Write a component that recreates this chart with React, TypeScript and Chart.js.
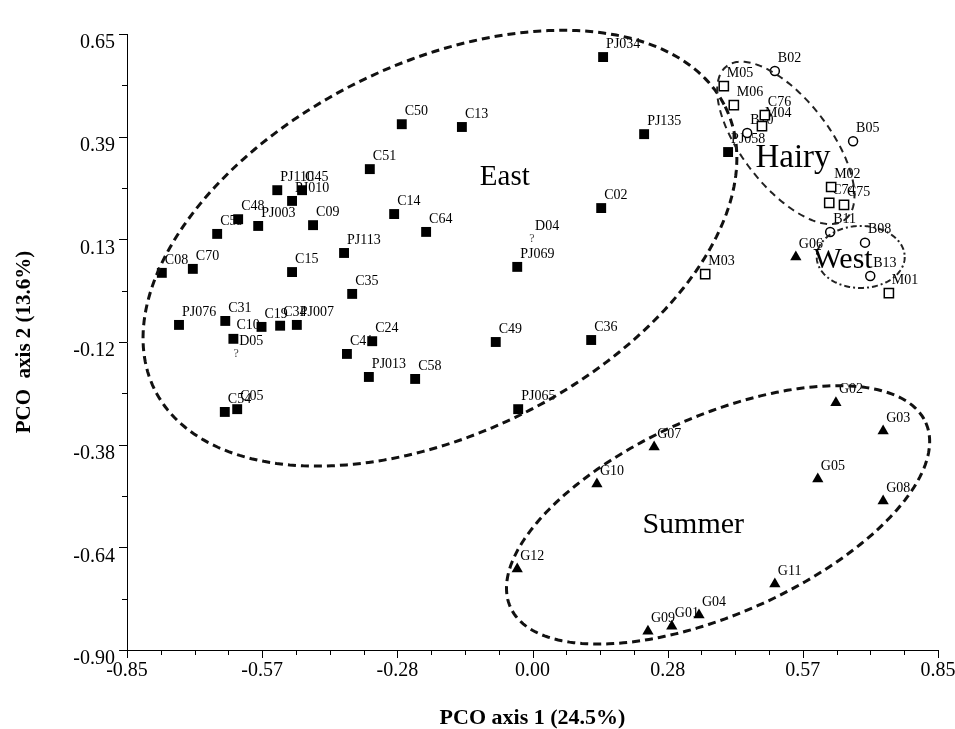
import React, { useEffect, useRef } from "react";
import { Chart, registerables } from "chart.js";
Chart.register(...registerables);

// ---------- DATA ----------
const eastNames = ["PJ034","PJ135","C02","PJ069","C36","C49","PJ065","C13","C50","C51","C14","C64","PJ113","C35","C24","C41","PJ013","C58","C09","PJ003","C48","C59","PJ110","PJ010","C45","C15","C70","C08","PJ076","C31","C10","C19","C34","PJ007","C54","C05","PJ058"];
const eastX = [0.148,0.234,0.144,-0.032,0.123,-0.077,-0.030,-0.148,-0.274,-0.341,-0.290,-0.223,-0.395,-0.378,-0.336,-0.389,-0.343,-0.246,-0.460,-0.575,-0.617,-0.661,-0.535,-0.504,-0.483,-0.504,-0.712,-0.777,-0.741,-0.644,-0.627,-0.568,-0.529,-0.494,-0.645,-0.619,0.410];
const eastY = [0.592,0.398,0.212,0.064,-0.120,-0.125,-0.294,0.416,0.423,0.310,0.197,0.152,0.099,-0.004,-0.123,-0.155,-0.213,-0.218,0.169,0.167,0.184,0.147,0.257,0.230,0.257,0.051,0.059,0.049,-0.082,-0.072,-0.117,-0.087,-0.084,-0.082,-0.301,-0.294,0.353];

const openSqNames = ["M05","M06","C76","M04","M02","C74","C75","M01","M03"];
const openSqX = [0.401,0.422,0.487,0.481,0.626,0.622,0.653,0.747,0.362];
const openSqY = [0.519,0.471,0.446,0.418,0.265,0.225,0.220,-0.002,0.046];

const circleNames = ["B02","B10","B05","B11","B08","B13"];
const circleX = [0.508,0.450,0.672,0.624,0.697,0.708];
const circleY = [0.557,0.401,0.380,0.152,0.125,0.041];

const triNames = ["G06","G02","G03","G07","G10","G05","G08","G12","G11","G04","G01","G09"];
const triX = [0.552,0.636,0.735,0.255,0.135,0.598,0.735,-0.032,0.508,0.349,0.292,0.242];
const triY = [0.089,-0.278,-0.349,-0.389,-0.482,-0.470,-0.525,-0.696,-0.734,-0.812,-0.840,-0.853];

const unknownNames = ["D04","D05"];
const unknownX = [-0.001,-0.621];
const unknownY = [0.134,-0.155];

const xTickValues = [-0.85,-0.5667,-0.2833,0,0.2833,0.5667,0.85];
const xTickLabels = ["-0.85","-0.57","-0.28","0.00","0.28","0.57","0.85"];
const yTickValues = [0.65,0.3917,0.1333,-0.125,-0.3833,-0.6417,-0.90];
const yTickLabels = ["0.65","0.39","0.13","-0.12","-0.38","-0.64","-0.90"];

// group ellipses (data units): centre, first and second semi-axis vectors
const ellipseCX = [-0.194,0.531,0.688,0.389];
const ellipseCY = [0.111,0.376,0.089,-0.560];
const ellipseAX = [0.598,0.124,0.0922,0.4355];
const ellipseAY = [0.356,-0.193,0,0.2318];
const ellipseBX = [0.1725,0.073,0,0.084];
const ellipseBY = [-0.417,0.067,-0.078,-0.228];

const regionNames = ["East","Hairy","West","Summer"];
const regionX = [-0.058,0.546,0.651,0.337];
const regionY = [0.288,0.338,0.082,-0.586];

// ---------- STYLES ----------
const SERIF = '"Liberation Serif", "Times New Roman", serif';
const ellipseStyles = [
  { width: 3, dash: [8, 5], color: "#111" },
  { width: 2, dash: [7, 5], color: "#222" },
  { width: 2, dash: [6, 3, 2, 3], color: "#222" },
  { width: 3, dash: [8, 5], color: "#111" },
];
const regionFont = [29, 33, 30, 30];

const toPts = (xs: number[], ys: number[]) => xs.map((x, i) => ({ x, y: ys[i] }));

const overlay = {
  id: "overlay",
  beforeDatasetsDraw(chart: any) {
    const ctx = chart.ctx;
    ctx.save();
    ctx.font = `14px ${SERIF}`;
    ctx.fillStyle = "#000";
    ctx.textAlign = "left";
    ctx.textBaseline = "middle";
    chart.data.datasets.forEach((ds: any, di: number) => {
      const meta = chart.getDatasetMeta(di);
      (ds.names || []).forEach((n: string, i: number) => {
        const el = meta.data[i];
        ctx.fillText(n, el.x + 3, el.y - 13);
      });
      if (ds.unknown) {
        ctx.save();
        ctx.font = `12px ${SERIF}`;
        ctx.fillStyle = "#444";
        ctx.textAlign = "center";
        meta.data.forEach((el: any) => ctx.fillText("?", el.x, el.y));
        ctx.restore();
      }
    });
    ctx.restore();
  },
  afterDatasetsDraw(chart: any) {
    const ctx = chart.ctx;
    const xs = chart.scales.x, ys = chart.scales.y;
    ctx.save();
    // ellipses
    for (let e = 0; e < ellipseCX.length; e++) {
      const st = ellipseStyles[e];
      ctx.beginPath();
      const N = 240;
      for (let k = 0; k <= N; k++) {
        const t = (k / N) * Math.PI * 2;
        const dx = ellipseCX[e] + ellipseAX[e] * Math.cos(t) + ellipseBX[e] * Math.sin(t);
        const dy = ellipseCY[e] + ellipseAY[e] * Math.cos(t) + ellipseBY[e] * Math.sin(t);
        const px = xs.getPixelForValue(dx), py = ys.getPixelForValue(dy);
        if (k === 0) ctx.moveTo(px, py); else ctx.lineTo(px, py);
      }
      ctx.setLineDash(st.dash);
      ctx.lineWidth = st.width;
      ctx.strokeStyle = st.color;
      ctx.stroke();
    }
    ctx.setLineDash([]);
    // region names
    ctx.fillStyle = "#000";
    ctx.textAlign = "center";
    ctx.textBaseline = "middle";
    regionNames.forEach((n, i) => {
      ctx.font = `${regionFont[i]}px ${SERIF}`;
      ctx.fillText(n, xs.getPixelForValue(regionX[i]), ys.getPixelForValue(regionY[i]));
    });
    // axis tick marks (major + minor)
    const area = chart.chartArea;
    ctx.strokeStyle = "#000";
    ctx.lineWidth = 1;
    ctx.beginPath();
    for (let i = 0; i < xTickValues.length; i++) {
      const p = Math.round(xs.getPixelForValue(xTickValues[i])) + 0.5;
      ctx.moveTo(p, area.bottom); ctx.lineTo(p, area.bottom + 8);
      if (i < xTickValues.length - 1) {
        for (let j = 1; j < 4; j++) {
          const v = xTickValues[i] + ((xTickValues[i + 1] - xTickValues[i]) * j) / 4;
          const q = Math.round(xs.getPixelForValue(v)) + 0.5;
          ctx.moveTo(q, area.bottom); ctx.lineTo(q, area.bottom + 5);
        }
      }
    }
    for (let i = 0; i < yTickValues.length; i++) {
      const p = Math.round(ys.getPixelForValue(yTickValues[i])) + 0.5;
      ctx.moveTo(area.left, p); ctx.lineTo(area.left - 8, p);
      if (i < yTickValues.length - 1) {
        const v = (yTickValues[i] + yTickValues[i + 1]) / 2;
        const q = Math.round(ys.getPixelForValue(v)) + 0.5;
        ctx.moveTo(area.left, q); ctx.lineTo(area.left - 5, q);
      }
    }
    ctx.stroke();
    ctx.restore();
  },
};

export default function App() {
  const ref = useRef<HTMLCanvasElement>(null);
  useEffect(() => {
    if (!ref.current) return;
    Chart.defaults.font.family = SERIF;
    const chart = new Chart(ref.current, {
      type: "scatter",
      data: {
        datasets: [
          { label: "East", data: toPts(eastX, eastY), names: eastNames, pointStyle: "rect", pointRadius: 7, backgroundColor: "#000", borderColor: "#000", borderWidth: 0 } as any,
          { label: "Open squares", data: toPts(openSqX, openSqY), names: openSqNames, pointStyle: "rect", pointRadius: 6.5, backgroundColor: "#fff", borderColor: "#000", borderWidth: 1.5 } as any,
          { label: "Circles", data: toPts(circleX, circleY), names: circleNames, pointStyle: "circle", pointRadius: 4.5, backgroundColor: "#fff", borderColor: "#000", borderWidth: 1.5 } as any,
          { label: "Triangles", data: toPts(triX, triY), names: triNames, pointStyle: "triangle", pointRadius: 6.5, backgroundColor: "#000", borderColor: "#000", borderWidth: 0 } as any,
          { label: "Unknown", data: toPts(unknownX, unknownY), names: unknownNames, unknown: true, pointRadius: 0, backgroundColor: "#000", borderWidth: 0 } as any,
        ],
      },
      options: {
        responsive: false,
        devicePixelRatio: 1,
        animation: false,
        events: [],
        layout: { padding: { top: 34, right: 17, left: 0, bottom: 0 } },
        plugins: { legend: { display: false }, tooltip: { enabled: false } },
        scales: {
          x: {
            type: "linear",
            position: "bottom",
            min: -0.85,
            max: 0.85,
            afterBuildTicks: (s: any) => { s.ticks = xTickValues.map((v) => ({ value: v })); },
            afterFit: (s: any) => { s.height = 79; s.paddingLeft = 0; s.paddingRight = 0; },
            grid: { display: false, drawTicks: false },
            border: { display: true, color: "#000", width: 1 },
            ticks: { autoSkip: false, maxRotation: 0, padding: 9, color: "#000", font: { size: 20 }, callback: (_v: any, i: number) => xTickLabels[i] },
            title: { display: true, text: "PCO axis 1 (24.5%)", color: "#000", font: { size: 22, weight: "bold" }, padding: { top: 4, bottom: -3 } },
          },
          y: {
            type: "linear",
            position: "left",
            min: -0.9,
            max: 0.65,
            afterBuildTicks: (s: any) => { s.ticks = yTickValues.map((v) => ({ value: v })); },
            afterFit: (s: any) => { s.width = 127; s.paddingTop = 0; s.paddingBottom = 0; },
            grid: { display: false, drawTicks: false },
            border: { display: true, color: "#000", width: 1 },
            ticks: { autoSkip: false, padding: 12, labelOffset: 9, color: "#000", font: { size: 20 }, callback: (_v: any, i: number) => yTickLabels[i] },
            title: { display: true, text: "PCO  axis 2 (13.6%)", color: "#000", font: { size: 21, weight: "bold" }, padding: { top: 12, bottom: 0 } },
          },
        },
      } as any,
      plugins: [overlay],
    });
    return () => chart.destroy();
  }, []);
  return (
    <div style={{ position: "absolute", left: 0, top: 0, width: 955, height: 729, background: "#fff" }}>
      <canvas ref={ref} width={955} height={729} style={{ display: "block", width: 955, height: 729 }} />
    </div>
  );
}
